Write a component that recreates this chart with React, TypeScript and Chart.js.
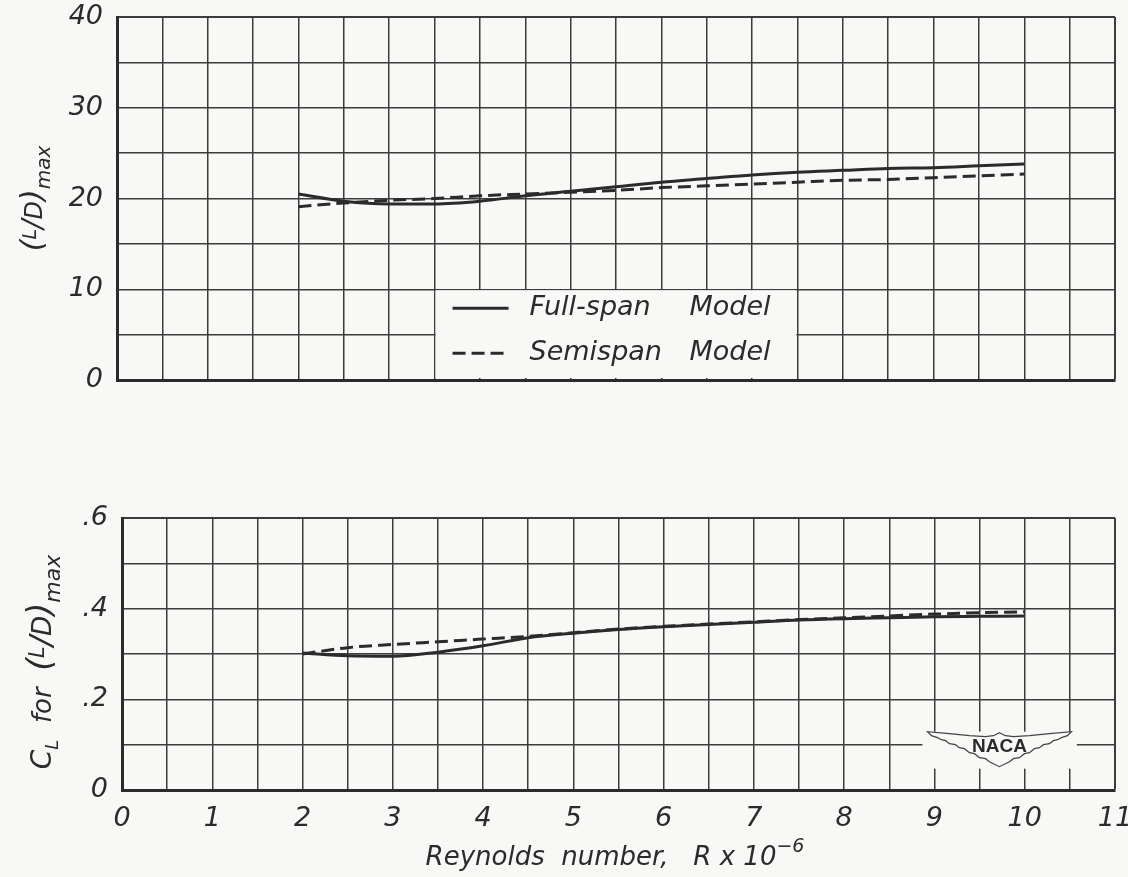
import React, { useEffect, useRef } from "react";
import { Chart, registerables } from "chart.js";

Chart.register(...registerables);

// ---- data ----
const reynolds = [2, 2.5, 3, 3.5, 4, 4.5, 5, 5.5, 6, 6.5, 7, 7.5, 8, 8.5, 9, 9.5, 10];
const ldFullSpan = [20.5, 19.7, 19.4, 19.4, 19.7, 20.3, 20.8, 21.3, 21.8, 22.2, 22.6, 22.9, 23.1, 23.3, 23.4, 23.6, 23.8];
const ldSemispan = [19.1, 19.5, 19.8, 20.0, 20.3, 20.5, 20.7, 20.9, 21.2, 21.4, 21.6, 21.8, 22.0, 22.1, 22.3, 22.5, 22.7];
const clFullSpan = [0.302, 0.296, 0.295, 0.304, 0.318, 0.336, 0.346, 0.354, 0.36, 0.365, 0.37, 0.375, 0.378, 0.38, 0.382, 0.383, 0.384];
const clSemispan = [0.3, 0.314, 0.321, 0.327, 0.333, 0.339, 0.347, 0.355, 0.361, 0.366, 0.371, 0.376, 0.38, 0.384, 0.388, 0.391, 0.393];
const seriesLabels = ["Full-span Model", "Semispan Model"];
const xMin = 0, xMax = 11, xStep = 0.5;
const ldMax = 40, ldStep = 5;
const clMax = 0.6, clStep = 0.1;
const xTitle = "Reynolds  number,   R x 10";
const xTitleExp = "\u22126";

const BG = "#f8f8f7";
const INK = "#2b2b2b";
const GRID = "#3c3c3c";
const FAM = '"DejaVu Sans", sans-serif';

type Run = { text: string; size: number; dy?: number };

function drawRuns(ctx: CanvasRenderingContext2D, runs: Run[], cx: number, cy: number, rotate: boolean) {
  ctx.save();
  ctx.translate(cx, cy);
  if (rotate) ctx.rotate(-Math.PI / 2);
  ctx.fillStyle = INK;
  ctx.textBaseline = "alphabetic";
  let w = 0;
  for (const r of runs) {
    ctx.font = `italic ${r.size}px ${FAM}`;
    w += ctx.measureText(r.text).width;
  }
  let x = -w / 2;
  for (const r of runs) {
    ctx.font = `italic ${r.size}px ${FAM}`;
    ctx.fillText(r.text, x, 9 + (r.dy || 0));
    x += ctx.measureText(r.text).width;
  }
  ctx.restore();
}

const ldRuns = (k: number): Run[] => [
  { text: "(", size: 30 * k },
  { text: "L", size: 19 * k, dy: -6 * k },
  { text: "/", size: 28 * k },
  { text: "D", size: 24 * k },
  { text: ")", size: 30 * k },
  { text: "max", size: 20 * k, dy: 8 * k },
];

function dataset(label: string, ys: number[], dashed: boolean) {
  return {
    label,
    data: reynolds.map((r, i) => ({ x: r, y: ys[i] })),
    borderColor: INK,
    borderWidth: 3,
    borderDash: dashed ? [13, 6] : [],
    pointRadius: 0,
    fill: false,
    cubicInterpolationMode: "monotone",
  };
}

function scales(opts: { yMax: number; yStep: number; yWidth: number; xHeight: number; showX: boolean; yLabel: (v: number) => string }) {
  const tickFont = { family: FAM, style: "italic", size: 27 };
  return {
    x: {
      type: "linear",
      min: xMin,
      max: xMax,
      afterFit: (s: any) => {
        s.height = opts.xHeight;
        s.paddingLeft = 0;
        s.paddingRight = 0;
      },
      ticks: {
        display: opts.showX,
        stepSize: xStep,
        autoSkip: false,
        maxRotation: 0,
        minRotation: 0,
        padding: 13,
        color: INK,
        font: tickFont,
        callback: (v: number) => (Number.isInteger(v) ? String(v) : ""),
      },
      grid: {
        drawTicks: false,
        color: GRID,
        lineWidth: (c: any) => (c.tick && c.tick.value === xMax ? 2 : 1.5),
      },
      border: { display: true, width: 3, color: INK },
    },
    y: {
      type: "linear",
      min: 0,
      max: opts.yMax,
      afterFit: (s: any) => {
        s.width = opts.yWidth;
        s.paddingTop = 0;
        s.paddingBottom = 0;
      },
      ticks: {
        stepSize: opts.yStep,
        autoSkip: false,
        padding: 14,
        color: INK,
        font: tickFont,
        callback: (v: number) => opts.yLabel(v),
      },
      grid: {
        drawTicks: false,
        color: GRID,
        lineWidth: (c: any) => (c.tick && Math.abs(c.tick.value - opts.yMax) < 1e-9 ? 2 : 1.5),
      },
      border: { display: true, width: 3, color: INK },
    },
  };
}

const topDecor = {
  id: "topDecor",
  beforeDatasetsDraw(chart: any) {
    const ctx = chart.ctx as CanvasRenderingContext2D;
    const xs = chart.scales.x, ys = chart.scales.y;
    const bx0 = xs.getPixelForValue(3.5) + 1;
    const bx1 = xs.getPixelForValue(7.5) - 1;
    const by0 = ys.getPixelForValue(10) + 1;
    const by1 = ys.getPixelForValue(0) - 2;
    ctx.save();
    ctx.fillStyle = BG;
    ctx.fillRect(bx0, by0, bx1 - bx0, by1 - by0);
    const dsets = chart.data.datasets;
    const rows = [by0 + 18, by0 + 63];
    dsets.forEach((d: any, i: number) => {
      const y = rows[i];
      ctx.strokeStyle = INK;
      ctx.lineWidth = 3;
      ctx.setLineDash(d.borderDash || []);
      ctx.beginPath();
      ctx.moveTo(bx0 + 17, y);
      ctx.lineTo(bx0 + 73, y);
      ctx.stroke();
      ctx.setLineDash([]);
      const words = String(d.label).split(" ");
      ctx.fillStyle = INK;
      ctx.font = `italic 27px ${FAM}`;
      ctx.textBaseline = "middle";
      ctx.fillText(words[0], bx0 + 94, y);
      ctx.fillText(words.slice(1).join(" "), bx0 + 254, y);
    });
    ctx.restore();
  },
  afterDraw(chart: any) {
    const ys = chart.scales.y;
    drawRuns(chart.ctx, ldRuns(1), 33, ys.getPixelForValue(20), true);
  },
};

const bottomDecor = {
  id: "bottomDecor",
  beforeDatasetsDraw(chart: any) {
    const ctx = chart.ctx as CanvasRenderingContext2D;
    const xs = chart.scales.x, ys = chart.scales.y;
    // NACA emblem
    const cx = xs.getPixelForValue(9.72);
    const cy = ys.getPixelForValue(0.1);
    ctx.save();
    ctx.fillStyle = BG;
    const rx0 = xs.getPixelForValue(9) - 12;
    const rx1 = xs.getPixelForValue(10.5) + 7;
    ctx.fillRect(rx0, cy - 13, rx1 - rx0, 37);
    const half = [
      [0, -12], [6, -9], [14, -8], [30, -9], [50, -11], [72, -13], [68, -9], [62, -7], [58, -5],
      [54, -4], [50, -1], [44, 0], [40, 3], [35, 4], [30, 8], [25, 9], [20, 13], [14, 14], [10, 17], [0, 22],
    ];
    ctx.beginPath();
    half.forEach(([dx, dy], i) => (i === 0 ? ctx.moveTo(cx + dx, cy + dy) : ctx.lineTo(cx + dx, cy + dy)));
    for (let i = half.length - 2; i >= 1; i--) ctx.lineTo(cx - half[i][0], cy + half[i][1]);
    ctx.closePath();
    ctx.strokeStyle = "#444";
    ctx.lineWidth = 1.2;
    ctx.stroke();
    ctx.fillStyle = INK;
    ctx.font = `bold 19px "Liberation Sans", sans-serif`;
    ctx.textAlign = "center";
    ctx.textBaseline = "middle";
    ctx.fillText("NACA", cx, cy + 2);
    ctx.restore();
  },
  afterDraw(chart: any) {
    const ys = chart.scales.y;
    const k = 1.1;
    const runs: Run[] = [
      { text: "C", size: 28 },
      { text: "L", size: 18, dy: 7 },
      { text: "  for  ", size: 26 },
      ...ldRuns(k),
    ];
    drawRuns(chart.ctx, runs, 42, ys.getPixelForValue(0.3) + 8, true);
    drawRuns(
      chart.ctx,
      [
        { text: xTitle, size: 26 },
        { text: xTitleExp, size: 19, dy: -13 },
      ],
      615,
      chart.height - 21,
      false
    );
  },
};

export default function App() {
  const topRef = useRef<HTMLCanvasElement>(null);
  const botRef = useRef<HTMLCanvasElement>(null);

  useEffect(() => {
    const top = new Chart(topRef.current as HTMLCanvasElement, {
      type: "line",
      data: {
        datasets: [dataset(seriesLabels[0], ldFullSpan, false), dataset(seriesLabels[1], ldSemispan, true)],
      } as any,
      options: {
        animation: false,
        responsive: false,
        layout: { padding: { left: 0, right: 13, top: 17, bottom: 0 } },
        plugins: { legend: { display: false }, tooltip: { enabled: false } },
        scales: scales({
          yMax: ldMax,
          yStep: ldStep,
          yWidth: 117,
          xHeight: 40,
          showX: false,
          yLabel: (v) => (Math.round(v) % 10 === 0 ? String(Math.round(v)) : ""),
        }) as any,
      },
      plugins: [topDecor],
    });
    const bot = new Chart(botRef.current as HTMLCanvasElement, {
      type: "line",
      data: {
        datasets: [dataset(seriesLabels[0], clFullSpan, false), dataset(seriesLabels[1], clSemispan, true)],
      } as any,
      options: {
        animation: false,
        responsive: false,
        layout: { padding: { left: 0, right: 13, top: 48, bottom: 0 } },
        plugins: { legend: { display: false }, tooltip: { enabled: false } },
        scales: scales({
          yMax: clMax,
          yStep: clStep,
          yWidth: 122,
          xHeight: 87,
          showX: true,
          yLabel: (v) => {
            const n = Math.round(v * 10);
            if (n % 2 !== 0) return "";
            return n === 0 ? "0" : "." + n;
          },
        }) as any,
      },
      plugins: [bottomDecor],
    });
    return () => {
      top.destroy();
      bot.destroy();
    };
  }, []);

  return (
    <div style={{ position: "absolute", left: 0, top: 0, width: 1128, height: 877, background: BG, overflow: "hidden" }}>
      <canvas ref={topRef} width={1128} height={420} style={{ position: "absolute", left: 0, top: 0 }} />
      <canvas ref={botRef} width={1128} height={407} style={{ position: "absolute", left: 0, top: 470 }} />
    </div>
  );
}
